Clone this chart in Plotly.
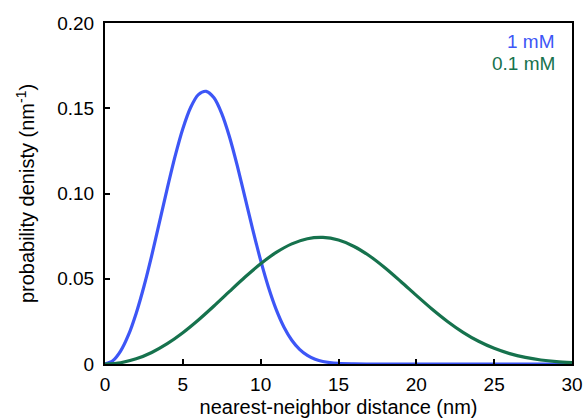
import plotly.graph_objects as go

# Nearest-neighbor distance distributions at two concentrations
r_1mM = [0, 0.5, 1, 1.5, 2, 2.5, 3, 3.5, 4, 4.5, 5, 5.5, 6, 6.5, 7, 7.5, 8, 8.5,
         9, 9.5, 10, 10.5, 11, 11.5, 12, 12.5, 13, 13.5, 14, 15, 16, 17, 20, 25, 30]
p_1mM = [0, 0.00189, 0.00755, 0.01688, 0.02967, 0.04547, 0.06362, 0.08320, 0.10303,
         0.12177, 0.13802, 0.15046, 0.15800, 0.15993, 0.15610, 0.14686, 0.13313,
         0.11615, 0.09746, 0.07856, 0.06074, 0.04500, 0.03190, 0.02159, 0.01394,
         0.00857, 0.00501, 0.00278, 0.00146, 0.00034, 0.00006, 0, 0, 0, 0]

r_01mM = list(range(0, 31))
p_01mM = [0, 0.000757, 0.003021, 0.006765, 0.011914, 0.018332, 0.025798, 0.034007,
          0.042564, 0.051001, 0.058801, 0.065454, 0.070471, 0.073482, 0.074236,
          0.072678, 0.068941, 0.063335, 0.056310, 0.048418, 0.040235, 0.032278,
          0.024972, 0.018603, 0.013334, 0.009185, 0.006073, 0.003849, 0.002336,
          0.001356, 0.000752]

labels = ["1 mM", "0.1 mM"]
colors = ["#3D56F6", "#16724D"]

x_ticks = [0, 5, 10, 15, 20, 25, 30]
y_ticks = [0, 0.05, 0.10, 0.15, 0.20]
y_ticktext = ["0", "0.05", "0.10", "0.15", "0.20"]

font_family = "Liberation Sans, Arial, Helvetica, sans-serif"

fig = go.Figure()
for r, p, c, name in [(r_1mM, p_1mM, colors[0], labels[0]),
                      (r_01mM, p_01mM, colors[1], labels[1])]:
    fig.add_trace(go.Scatter(x=r, y=p, mode="lines", name=name,
                             line=dict(color=c, width=3.2, shape="spline", smoothing=0.8),
                             showlegend=False))

# Colored series labels in the upper-right corner (pixel positions, converted below)
for i, (name, c) in enumerate(zip(labels, colors)):
    fig.add_annotation(x=557, y=42 + i * 21, xref="paper", yref="paper",
                       text=name, showarrow=False, xanchor="right", yanchor="middle",
                       font=dict(color=c, size=19, family=font_family))

axis_common = dict(showline=True, linecolor="black", linewidth=2, mirror=True,
                   ticks="inside", ticklen=5, tickwidth=1.5, tickcolor="black",
                   showgrid=False, zeroline=False, automargin=False,
                   tickfont=dict(size=19, color="black", family=font_family))

fig.update_xaxes(range=[0, 30], tickvals=x_ticks, ticklabelstandoff=2,
                 title=dict(text="nearest-neighbor distance (nm)", standoff=6,
                            font=dict(size=20, color="black", family=font_family)),
                 **axis_common)
fig.update_yaxes(range=[0, 0.2], tickvals=y_ticks, ticktext=y_ticktext,
                 ticklabelstandoff=5,
                 title=dict(text="probability denisty (nm<sup>-1</sup>)", standoff=17,
                            font=dict(size=20, color="black", family=font_family)),
                 **axis_common)

L, R, T, B, W, H = 105, 15, 23, 56, 587, 420
fig.update_layout(width=W, height=H, margin=dict(l=L, r=R, t=T, b=B),
                  plot_bgcolor="white", paper_bgcolor="white",
                  font=dict(family=font_family, color="black"))

# Convert pixel positions of the labels into paper coordinates
pw, ph = W - L - R, H - T - B
for ann in fig.layout.annotations:
    ann.x = (ann.x - L) / pw
    ann.y = 1 - (ann.y - T) / ph

fig.write_html("out.html")
